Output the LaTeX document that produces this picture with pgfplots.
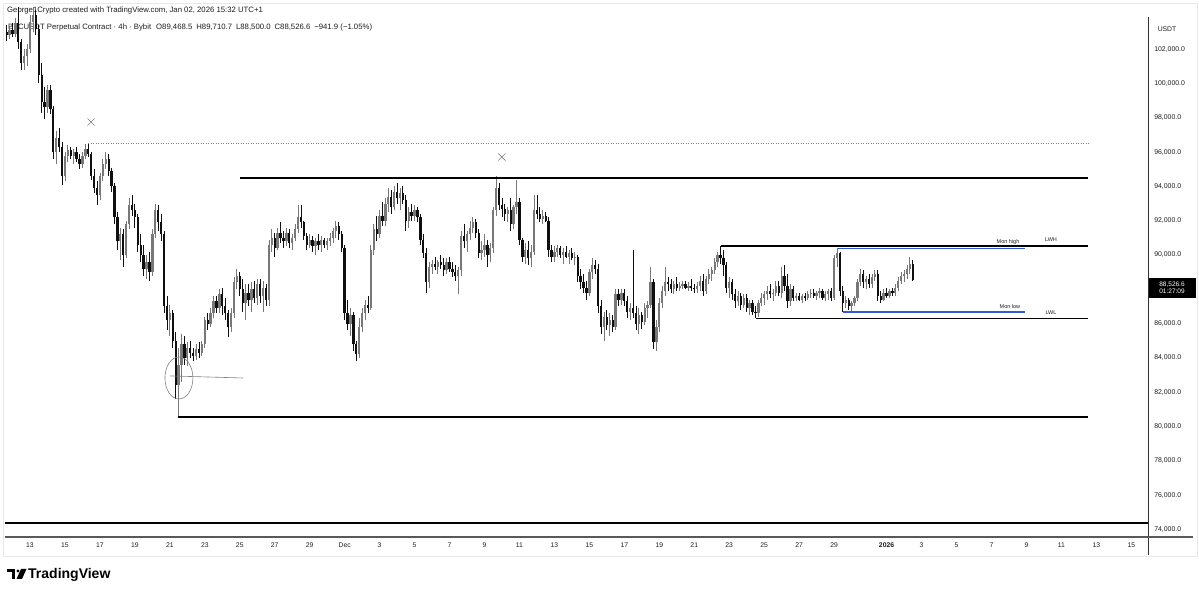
\documentclass[border=0pt]{standalone}
\usepackage{fontspec}
\setmainfont{Liberation Sans}
\usepackage{pgfplots}
\usepackage{pgfplotstable}
\pgfplotsset{compat=1.18}
\definecolor{upc}{RGB}{120,120,120}
\definecolor{dnc}{RGB}{15,15,15}
\definecolor{mblue}{RGB}{50,90,215}
\definecolor{txt}{RGB}{30,30,30}

\pgfplotstableread{
o h l c
103.0 103.4 102.5 102.8
102.8 103.3 102.6 103.1
103.1 103.5 102.7 102.9
102.9 103.8 102.7 103.5
103.5 105.0 102.0 102.4
102.4 102.6 100.8 101.2
101.2 102.0 100.8 101.6
101.6 102.3 101.0 102.0
102.0 104.0 101.8 103.6
103.6 104.6 103.0 104.0
104.0 104.3 102.8 103.2
103.2 103.4 100.0 100.5
100.5 101.2 98.3 98.9
98.9 99.8 97.9 98.6
98.6 99.9 98.3 99.6
99.6 99.9 98.2 98.5
98.5 98.7 95.6 96.0
96.0 97.2 95.3 96.8
96.8 97.4 96.0 96.3
96.3 96.6 94.1 94.6
94.6 96.0 94.3 95.8
95.8 96.4 95.4 96.1
96.1 96.3 95.6 95.8
95.8 96.2 95.3 96.0
96.0 96.3 95.4 95.6
95.6 95.9 95.0 95.3
95.3 96.0 95.1 95.8
95.8 96.5 95.6 96.2
96.2 96.5 95.7 95.9
95.9 96.0 94.4 94.6
94.6 95.0 93.6 93.9
93.9 94.3 92.9 93.5
93.5 94.8 93.2 94.6
94.6 95.6 94.3 95.3
95.3 96.0 95.0 95.6
95.6 95.9 94.6 94.9
94.9 95.1 93.7 94.0
94.0 94.2 91.8 92.2
92.2 92.5 90.3 90.8
90.8 91.6 89.7 91.2
91.2 91.5 89.3 90.0
90.0 92.0 89.8 91.8
91.8 93.3 91.5 92.9
92.9 93.5 92.3 92.6
92.6 93.0 91.6 92.2
92.2 92.4 90.2 90.6
90.6 91.2 89.6 90.0
90.0 90.6 88.8 89.2
89.2 90.0 88.6 89.6
89.6 90.2 88.5 89.0
89.0 91.5 88.8 91.2
91.2 93.0 91.0 92.6
92.6 92.9 91.4 91.9
91.9 92.4 90.8 91.2
91.2 91.4 86.6 87.0
87.0 87.6 85.6 86.2
86.2 87.1 85.3 86.6
86.6 86.8 84.6 85.0
85.0 85.5 81.6 82.4
82.4 84.6 80.55 83.6
83.6 85.4 82.6 84.8
84.8 85.3 83.6 84.0
84.0 84.9 83.5 84.6
84.6 85.0 84.0 84.3
84.3 84.6 83.8 84.1
84.1 84.8 83.9 84.5
84.5 84.9 84.0 84.3
84.3 85.0 84.1 84.8
84.8 86.4 84.6 86.2
86.2 86.6 85.6 86.0
86.0 86.9 85.8 86.6
86.6 87.6 86.3 87.3
87.3 87.6 86.6 86.9
86.9 88.0 86.6 87.7
87.7 88.1 86.5 87.0
87.0 87.5 86.2 86.6
86.6 86.8 85.2 85.8
85.8 86.9 85.5 86.6
86.6 88.7 86.3 88.4
88.4 89.2 88.0 88.8
88.8 89.0 87.6 88.0
88.0 88.6 86.7 87.2
87.2 88.3 86.2 87.8
87.8 88.3 87.0 87.4
87.4 88.4 86.7 88.0
88.0 88.5 87.2 87.5
87.5 88.6 87.1 88.3
88.3 88.6 87.2 87.6
87.6 88.5 86.7 88.1
88.1 88.3 87.0 87.4
87.4 90.9 87.0 90.6
90.6 91.5 90.2 91.0
91.0 91.3 89.9 90.4
90.4 91.6 90.3 91.3
91.3 91.9 90.7 91.0
91.0 91.4 90.4 90.8
90.8 91.6 90.5 91.3
91.3 91.5 90.4 90.7
90.7 91.2 90.3 91.0
91.0 91.8 90.8 91.5
91.5 92.9 91.3 92.2
92.2 92.9 91.6 91.9
91.9 92.0 90.9 91.1
91.1 91.3 90.3 90.6
90.6 91.2 90.4 90.9
90.9 91.1 90.2 90.5
90.5 91.0 90.0 90.8
90.8 91.2 90.3 90.6
90.6 91.1 90.2 90.9
90.9 91.0 90.4 90.6
90.6 91.0 90.3 90.8
90.8 91.3 90.5 91.0
91.0 91.6 90.7 91.4
91.4 92.0 91.0 91.7
91.7 91.9 90.9 91.2
91.2 91.4 90.2 90.4
90.4 90.6 86.2 86.6
86.6 87.4 85.6 86.0
86.0 86.9 85.3 86.5
86.5 86.7 84.4 84.8
84.8 85.0 83.8 84.2
84.2 86.3 84.0 85.8
85.8 86.9 85.5 86.6
86.6 87.4 86.2 87.1
87.1 87.6 86.6 86.9
86.9 90.6 86.8 90.3
90.3 91.8 90.0 91.5
91.5 92.3 90.8 91.2
91.2 92.6 91.0 92.3
92.3 93.1 91.7 92.0
92.0 93.3 91.7 93.0
93.0 93.9 92.5 93.4
93.4 93.8 92.4 92.8
92.8 94.0 92.6 93.7
93.7 94.2 93.0 93.3
93.3 93.9 92.6 93.6
93.6 94.0 93.0 93.2
93.2 93.5 91.4 92.0
92.0 92.8 91.6 92.5
92.5 93.0 92.0 92.3
92.3 92.9 92.0 92.6
92.6 92.8 91.9 92.2
92.2 92.4 90.6 90.9
90.9 91.2 89.8 90.1
90.1 90.4 87.8 88.4
88.4 89.6 88.1 89.3
89.3 89.7 88.9 89.5
89.5 89.9 89.1 89.3
89.3 89.7 88.9 89.6
89.6 90.0 89.2 89.4
89.4 89.8 88.8 89.1
89.1 89.8 88.9 89.6
89.6 89.9 89.0 89.2
89.2 89.6 88.7 89.0
89.0 89.4 88.5 88.8
88.8 89.3 87.7 89.1
89.1 91.4 88.8 91.1
91.1 91.8 90.4 90.8
90.8 91.4 90.2 91.2
91.2 92.0 90.9 91.6
91.6 92.2 91.3 91.9
91.9 92.1 91.0 91.3
91.3 91.5 89.8 90.1
90.1 90.8 89.7 90.3
90.3 91.2 89.9 90.6
90.6 90.9 89.3 90.0
90.0 90.7 89.6 90.4
90.4 92.8 90.1 92.6
92.6 94.6 92.3 93.9
93.9 94.2 92.6 92.9
92.9 93.3 92.2 92.7
92.7 93.0 92.0 92.4
92.4 92.8 91.9 92.6
92.6 93.3 91.4 91.8
91.8 92.9 91.5 92.8
92.8 94.4 92.4 93.1
93.1 93.3 90.6 90.9
90.9 91.0 89.6 89.9
89.9 90.7 89.5 90.3
90.3 90.8 89.4 89.8
89.8 90.6 89.3 90.2
90.2 93.5 90.0 92.6
92.6 93.5 92.1 92.4
92.4 92.8 91.9 92.1
92.1 92.6 91.8 92.3
92.3 92.5 91.9 92.0
92.0 92.2 89.9 90.3
90.3 90.6 89.6 89.9
89.9 90.5 89.6 90.2
90.2 90.6 89.9 90.4
90.4 90.5 89.8 90.0
90.0 90.4 89.5 90.2
90.2 90.5 89.8 89.9
89.9 90.3 89.5 90.1
90.1 90.4 89.7 89.8
89.8 90.2 89.4 89.9
89.9 90.0 88.4 88.8
88.8 89.2 88.0 88.4
88.4 88.9 87.8 88.1
88.1 88.5 87.4 87.8
87.8 89.2 87.6 89.0
89.0 89.8 88.6 89.4
89.4 89.7 88.9 89.2
89.2 89.5 86.6 87.0
87.0 87.4 85.4 85.8
85.8 86.7 85.0 86.4
86.4 86.8 85.6 85.9
85.9 86.6 85.3 86.2
86.2 86.5 85.5 85.8
85.8 88.0 85.6 87.7
87.7 88.0 87.0 87.4
87.4 88.0 87.1 87.8
87.8 88.0 87.0 87.3
87.3 87.6 86.3 86.7
86.7 87.2 86.2 86.9
86.9 90.3 86.3 86.6
86.6 87.0 85.6 86.0
86.0 86.9 85.4 86.5
86.5 86.7 85.7 86.1
86.1 87.2 85.9 86.9
86.9 87.3 86.3 87.1
87.1 89.3 86.9 88.4
88.4 88.6 84.5 84.9
84.9 86.2 84.4 85.8
85.8 87.5 85.5 87.2
87.2 88.2 86.9 87.9
87.9 89.3 87.6 88.4
88.4 88.7 87.9 88.3
88.3 88.6 87.8 88.0
88.0 88.5 87.7 88.3
88.3 88.7 87.9 88.1
88.1 88.4 87.9 88.2
88.2 88.5 88.0 88.3
88.3 88.5 88.0 88.1
88.1 88.4 87.9 88.2
88.2 88.6 87.9 88.1
88.1 88.3 87.8 88.0
88.0 88.4 87.8 88.2
88.2 88.8 87.9 88.5
88.5 88.9 87.6 87.9
87.9 88.8 87.7 88.6
88.6 89.2 88.3 88.9
88.9 89.3 88.5 89.1
89.1 89.8 88.9 89.6
89.6 90.2 89.3 90.0
90.0 90.55 89.5 89.8
89.8 90.3 88.8 89.4
89.4 89.6 87.8 88.1
88.1 88.7 87.5 88.4
88.4 88.6 87.4 87.7
87.7 88.0 86.9 87.3
87.3 87.9 87.0 87.6
87.6 87.8 86.8 87.1
87.1 87.7 86.9 87.5
87.5 87.7 86.7 86.9
86.9 87.4 86.5 87.2
87.2 87.4 86.5 86.7
86.7 87.0 86.35 86.6
86.6 87.4 86.4 87.2
87.2 87.8 87.0 87.5
87.5 87.9 87.1 87.7
87.7 88.2 87.4 87.9
87.9 88.3 87.5 87.7
87.7 88.0 87.3 87.8
87.8 88.5 87.6 88.2
88.2 88.5 87.6 87.8
87.8 89.3 87.5 88.8
88.8 89.4 87.9 88.2
88.2 88.9 86.9 87.3
87.3 88.3 87.0 88.0
88.0 88.2 87.3 87.5
87.5 87.8 87.3 87.6
87.6 87.8 87.3 87.4
87.4 87.7 87.2 87.6
87.6 87.8 87.3 87.5
87.5 87.9 87.4 87.7
87.7 88.0 87.5 87.8
87.8 88.0 87.5 87.6
87.6 87.9 87.4 87.8
87.8 88.1 87.5 87.9
87.9 88.0 87.4 87.5
87.5 87.9 87.3 87.7
87.7 88.0 87.4 87.9
87.9 88.1 87.3 87.5
87.5 90.0 87.4 89.8
89.8 90.4 89.3 90.1
90.1 90.2 87.6 87.9
87.9 88.2 86.7 87.2
87.2 87.6 86.9 87.4
87.4 87.5 86.8 87.0
87.0 87.3 86.7 87.2
87.2 87.6 87.0 87.5
87.5 88.6 87.3 88.4
88.4 89.2 88.2 88.9
88.9 89.1 88.1 88.4
88.4 88.8 88.0 88.6
88.6 88.9 88.1 88.3
88.3 88.9 88.1 88.7
88.7 89.1 88.5 88.9
88.9 89.1 87.3 87.6
87.6 87.9 87.2 87.4
87.4 88.0 87.3 87.8
87.8 88.1 87.5 87.6
87.6 88.0 87.5 87.9
87.9 88.1 87.6 87.8
87.8 88.3 87.6 88.1
88.1 88.7 87.9 88.5
88.5 89.0 88.3 88.8
88.8 89.1 88.4 88.9
88.9 89.4 88.6 89.2
89.2 89.9 88.9 89.5
89.47 89.71 88.50 88.53
}\candles
\pgfplotstablecreatecol[create col/expr={11.6667+\pgfplotstablerow/6}]{t}{\candles}

\begin{document}
\begin{tikzpicture}
\useasboundingbox (0,0) rectangle (1199pt,594pt);
\fill[white] (0,0) rectangle (1199pt,594pt);
\draw[gray!18] (3pt,38pt) rectangle (1197pt,591pt);
% header text (drawn under the candles)
\node[anchor=west, font=\fontsize{7.75}{9}\selectfont, text=txt, inner sep=0pt] at (7pt,583.5pt) {George1Crypto created with TradingView.com, Jan 02, 2026 15:32 UTC+1};
\node[anchor=west, font=\fontsize{7.75}{9}\selectfont, text=txt, inner sep=0pt] at (8pt,566.5pt) {BTCUSDT Perpetual Contract · 4h · Bybit\hspace{5pt}O89,468.5\hspace{4pt}H89,710.7\hspace{4pt}L88,500.0\hspace{4pt}C88,526.6\hspace{4pt}−941.9 (−1.05\%)};
\begin{axis}[
  at={(5pt,57pt)}, anchor=south west,
  scale only axis, width=1143pt, height=529pt,
  xmin=11.57, xmax=76.96, ymin=73.56, ymax=104.40,
  axis line style={draw=none},
  major tick length=0pt,
  xtick={13,15,17,19,21,23,25,27,29,31,33,35,37,39,41,43,45,47,49,51,53,55,57,59,62,64,66,68,70,72,74,76},
  xticklabels={13,15,17,19,21,23,25,27,29,Dec,3,5,7,9,11,13,15,17,19,21,23,25,27,29,\textbf{2026},3,5,7,9,11,13,15},
  xticklabel style={font=\fontsize{6.8}{8}\selectfont, text=txt, anchor=center, yshift=-8pt},
  ytick={74,76,78,80,82,84,86,90,92,94,96,98,100,102},
  yticklabels={{74,000.0},{76,000.0},{78,000.0},{80,000.0},{82,000.0},{84,000.0},{86,000.0},{90,000.0},{92,000.0},{94,000.0},{96,000.0},{98,000.0},{100,000.0},{102,000.0}},
  yticklabel pos=right,
  yticklabel style={font=\fontsize{6.9}{8}\selectfont, text=txt, anchor=west, inner sep=0pt, xshift=6pt},
]
% wicks
\addplot[dnc, line width=0.8pt, quiver={u=0,v=\thisrow{h}-\thisrow{l}},
  restrict expr to domain={\thisrow{c}-\thisrow{o}}{-100:-0.00001}] table[x=t,y=l]{\candles};
\addplot[upc, line width=0.8pt, quiver={u=0,v=\thisrow{h}-\thisrow{l}},
  restrict expr to domain={\thisrow{c}-\thisrow{o}}{0:100}] table[x=t,y=l]{\candles};
% bodies
\addplot[dnc, line width=2.3pt, quiver={u=0,v=\thisrow{o}-\thisrow{c}},
  restrict expr to domain={\thisrow{c}-\thisrow{o}}{-100:-0.00001}] table[x=t,y=c]{\candles};
\addplot[upc, line width=2.3pt, quiver={u=0,v=\thisrow{c}-\thisrow{o}},
  restrict expr to domain={\thisrow{c}-\thisrow{o}}{0:100}] table[x=t,y=o]{\candles};
% levels
\addplot[gray, line width=0.6pt, dash pattern=on 1pt off 1.5pt] coordinates {(16.32,96.53) (73.53,96.53)};
\addplot[black, line width=1.3pt] coordinates {(25.01,94.49) (73.53,94.49)};
\addplot[black, line width=1.3pt] coordinates {(52.53,90.53) (73.53,90.53)};
\addplot[black, line width=1.3pt] coordinates {(54.53,86.31) (73.53,86.31)};
\addplot[black, line width=1.3pt] coordinates {(21.47,80.55) (73.53,80.55)};
\addplot[black, line width=1.3pt] coordinates {(11.57,74.37) (76.96,74.37)};
\addplot[mblue, line width=1.5pt] coordinates {(59.22,90.37) (69.92,90.37)};
\addplot[mblue, line width=1.3pt] coordinates {(59.51,86.68) (69.92,86.68)};
\addplot[only marks, mark=x, mark size=5pt, gray, mark options={line width=0.6pt}] coordinates {(16.49,97.75) (40.0,95.71)};
% drawn annotation
\draw[gray, line width=0.6pt] (axis cs:21.52,82.83) ellipse [x radius=14pt, y radius=21pt];
\draw[gray, line width=0.6pt] (axis cs:21.01,82.95) -- (axis cs:25.19,82.83);
\node[font=\fontsize{5.5}{6}\selectfont, text=txt, inner sep=0pt] at (axis cs:68.95,90.76) {Mon high};
\node[font=\fontsize{5.5}{6}\selectfont, text=txt, inner sep=0pt] at (axis cs:71.41,90.87) {LWH};
\node[font=\fontsize{5.5}{6}\selectfont, text=txt, inner sep=0pt] at (axis cs:69.06,86.97) {Mon low};
\node[font=\fontsize{5.5}{6}\selectfont, text=txt, inner sep=0pt] at (axis cs:71.41,86.62) {LWL};
\end{axis}
% frame lines of the price and time scales
\draw[black!80, line width=0.8pt] (1148pt,39pt) -- (1148pt,577pt);
\draw[black!65, line width=1.2pt] (5pt,57pt) -- (1193pt,57pt);
\node[font=\fontsize{6.8}{8}\selectfont, text=txt] at (1167pt,565pt) {USDT};
\fill[black] (1149pt,296pt) rectangle (1196pt,316pt);
\node[white, font=\fontsize{6.5}{7.5}\selectfont, align=center, inner sep=0pt] at (1172pt,306pt) {88,526.6\\[-1pt]01:27:09};
% logo
\fill[black] (7pt,25pt) rectangle (15pt,22pt);
\fill[black] (11.5pt,25pt) rectangle (15pt,15pt);
\fill[black] (18pt,23pt) circle (1.6pt);
\fill[black] (21pt,25pt) -- (26.5pt,25pt) -- (22pt,15pt) -- (16.5pt,15pt) -- cycle;
\node[anchor=west, font=\fontsize{14}{16}\selectfont\bfseries, inner sep=0pt] at (28pt,19.5pt) {TradingView};
\end{tikzpicture}
\end{document}
